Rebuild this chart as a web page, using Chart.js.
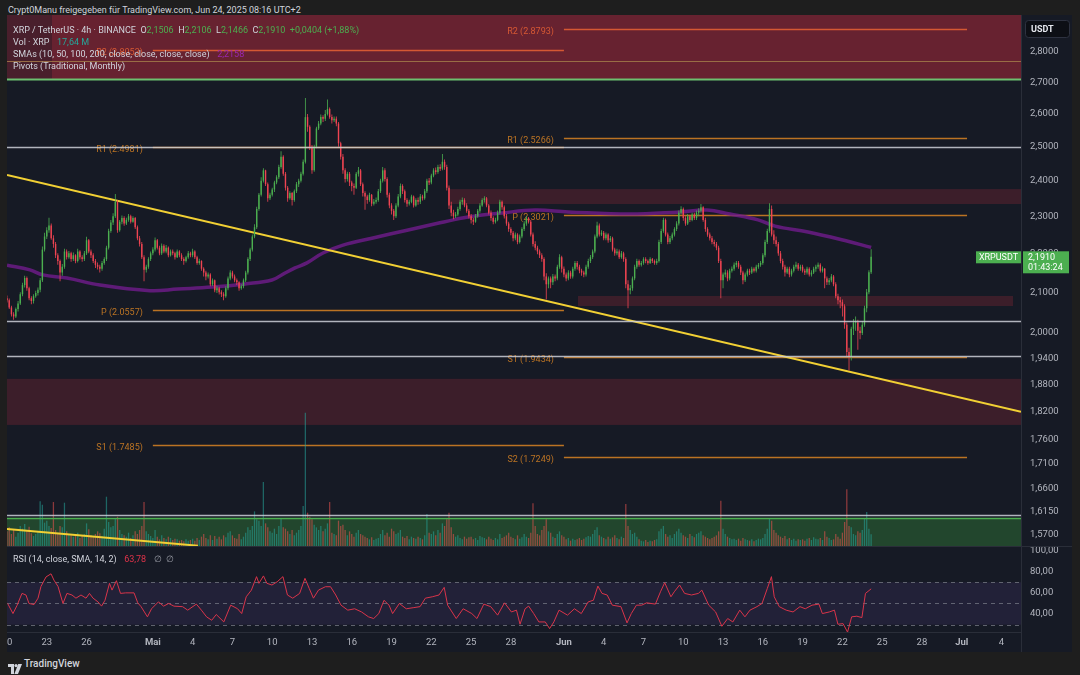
<!DOCTYPE html>
<html><head><meta charset="utf-8">
<script src="https://cdn.jsdelivr.net/npm/chart.js@4/dist/chart.umd.min.js"></script>
<style>
html,body{margin:0;padding:0;background:#1e1e1e;width:1080px;height:675px;overflow:hidden;font-family:Roboto,"Noto Sans",sans-serif;}
#panel{position:absolute;left:7px;top:15px;width:1065px;height:637px;background:#161a25;}
canvas{position:absolute;}
#main{left:7px;top:15px;}
#rsi{left:7px;top:546px;}
.t{position:absolute;white-space:nowrap;font-size:9px;color:#d1d4dc;line-height:10px;}
.t span{margin-left:3px;}
</style></head><body>
<div id="panel"></div>
<canvas id="main" width="1065" height="531"></canvas>
<canvas id="rsi" width="1065" height="106"></canvas>
<div class="t" style="left:8px;top:5px">Crypt0Manu freigegeben für TradingView.com, Jun 24, 2025 08:16 UTC+2</div>
<div class="t" id="lg1" style="left:13px;top:25px"></div>
<div class="t" id="lg2" style="left:13px;top:37px"></div>
<div class="t" id="lg3" style="left:13px;top:49px"></div>
<div class="t" style="left:13px;top:61px">Pivots (Traditional, Monthly)</div>
<div class="t" id="lg4" style="left:13px;top:554px"></div>
<div style="position:absolute;left:8px;top:659px;">
<svg width="14" height="10" viewBox="0 0 14 10"><path d="M0 0h6v10H3V3H0z" fill="#d1d4dc"/><circle cx="8" cy="1.6" r="1.6" fill="#d1d4dc"/><path d="M10.2 0H14l-4 10H6.4z" fill="#d1d4dc"/></svg>
</div>
<div class="t" style="left:24px;top:659px;font-size:10px;font-weight:500;">TradingView</div>
<script>
// ---------- DATA ----------
const candlesPerDay = 6;
const firstOpen = 2.085;
const closes = [
// Apr 20
2.080,2.062,2.045,2.040,2.058,2.072,
2.095,2.118,2.136,2.110,2.085,2.078,
2.090,2.098,2.106,2.130,2.210,2.245,
2.262,2.275,2.240,2.225,2.195,2.180,
2.150,2.165,2.205,2.190,2.200,2.185,
2.195,2.180,2.205,2.190,2.185,2.200,
2.235,2.205,2.195,2.180,2.170,2.165,
2.160,2.175,2.185,2.215,2.260,2.283,
2.300,2.340,2.262,2.285,2.295,2.280,
2.290,2.300,2.285,2.295,2.270,2.240,
2.225,2.190,2.157,2.165,2.185,2.200,
// May 1
2.210,2.235,2.215,2.200,2.220,2.205,
2.215,2.195,2.205,2.200,2.190,2.205,
2.195,2.185,2.180,2.190,2.200,2.195,
2.205,2.190,2.175,2.180,2.160,2.150,
2.140,2.145,2.120,2.130,2.105,2.110,
2.100,2.095,2.090,2.110,2.135,2.150,
2.140,2.130,2.125,2.110,2.115,2.130,
2.150,2.185,2.210,2.245,2.270,2.320,
2.360,2.400,2.430,2.390,2.350,2.360,
2.375,2.395,2.410,2.440,2.470,2.420,
2.380,2.350,2.365,2.345,2.370,2.390,
2.400,2.420,2.455,2.590,2.560,2.500,
2.430,2.500,2.555,2.570,2.590,2.585,
2.600,2.615,2.590,2.580,2.585,2.570,
2.510,2.470,2.430,2.405,2.420,2.395,
2.385,2.380,2.420,2.430,2.390,2.365,
2.355,2.345,2.360,2.335,2.340,2.345,
2.370,2.400,2.430,2.405,2.360,2.330,
2.315,2.300,2.330,2.355,2.385,2.370,
2.345,2.335,2.340,2.355,2.330,2.345,
2.340,2.355,2.350,2.370,2.400,2.395,
2.415,2.430,2.425,2.440,2.435,2.455,
2.440,2.380,2.330,2.310,2.300,2.305,
2.320,2.340,2.345,2.330,2.315,2.300,
2.290,2.285,2.300,2.315,2.330,2.345,
2.350,2.330,2.310,2.295,2.285,2.290,
2.310,2.340,2.325,2.300,2.280,2.265,
2.255,2.240,2.250,2.230,2.245,2.265,
2.280,2.295,2.285,2.250,2.225,2.215,
2.205,2.195,2.185,2.140,2.120,2.135,
2.125,2.140,2.135,2.165,2.190,2.160,
// Jun 1
2.145,2.135,2.150,2.140,2.160,2.175,
2.165,2.155,2.150,2.145,2.165,2.180,
2.190,2.205,2.245,2.275,2.250,2.255,
2.240,2.250,2.235,2.240,2.210,2.200,
2.205,2.190,2.200,2.185,2.120,2.105,
2.110,2.135,2.165,2.180,2.170,2.175,
2.185,2.180,2.175,2.185,2.180,2.175,
2.180,2.230,2.260,2.290,2.250,2.230,
2.240,2.250,2.265,2.280,2.310,2.320,
2.295,2.280,2.300,2.290,2.305,2.295,
2.310,2.315,2.325,2.290,2.265,2.250,
2.240,2.230,2.225,2.215,2.180,2.130,
2.145,2.150,2.135,2.155,2.160,2.170,
2.175,2.165,2.150,2.130,2.145,2.155,
2.150,2.160,2.155,2.165,2.170,2.175,
2.195,2.230,2.260,2.320,2.250,2.235,
2.225,2.200,2.180,2.165,2.150,2.160,
2.145,2.155,2.165,2.170,2.160,2.165,
2.155,2.150,2.160,2.145,2.150,2.160,
2.165,2.170,2.155,2.160,2.135,2.125,
2.130,2.140,2.120,2.090,2.080,2.075,
2.065,2.020,1.955,1.945,2.010,2.025,
2.025,2.005,2.000,2.020,2.060,2.100,
2.1506,2.1910
];
const highs = [
2.092,2.084,2.066,2.050,2.062,2.078,
2.100,2.124,2.142,2.140,2.114,2.090,
2.095,2.104,2.112,2.136,2.218,2.255,
2.270,2.296,2.280,2.248,2.230,2.200,
2.184,2.172,2.212,2.210,2.206,2.204,
2.202,2.198,2.212,2.208,2.195,2.206,
2.244,2.238,2.210,2.200,2.185,2.176,
2.170,2.180,2.190,2.220,2.266,2.290,
2.308,2.362,2.345,2.290,2.302,2.300,
2.296,2.306,2.304,2.300,2.298,2.275,
2.246,2.230,2.195,2.170,2.190,2.205,
2.216,2.242,2.238,2.220,2.226,2.224,
2.222,2.218,2.210,2.210,2.204,2.210,
2.208,2.200,2.190,2.194,2.206,2.204,
2.212,2.208,2.194,2.186,2.182,2.164,
2.155,2.150,2.148,2.135,2.132,2.116,
2.114,2.105,2.100,2.115,2.140,2.156,
2.155,2.145,2.135,2.128,2.120,2.135,
2.155,2.190,2.215,2.250,2.278,2.326,
2.365,2.410,2.436,2.432,2.395,2.366,
2.380,2.400,2.416,2.446,2.486,2.474,
2.425,2.385,2.370,2.368,2.375,2.396,
2.406,2.426,2.462,2.650,2.600,2.565,
2.505,2.506,2.560,2.578,2.598,2.596,
2.612,2.645,2.620,2.598,2.592,2.592,
2.575,2.515,2.478,2.436,2.426,2.425,
2.400,2.392,2.425,2.440,2.434,2.395,
2.370,2.360,2.366,2.362,2.348,2.352,
2.376,2.406,2.440,2.436,2.410,2.366,
2.336,2.320,2.336,2.362,2.392,2.390,
2.375,2.350,2.346,2.360,2.358,2.350,
2.352,2.362,2.360,2.376,2.406,2.408,
2.420,2.436,2.438,2.446,2.448,2.478,
2.462,2.446,2.386,2.340,2.318,2.312,
2.326,2.346,2.352,2.350,2.336,2.320,
2.306,2.296,2.306,2.320,2.336,2.350,
2.356,2.354,2.334,2.316,2.300,2.296,
2.316,2.346,2.344,2.330,2.306,2.285,
2.270,2.260,2.256,2.254,2.250,2.270,
2.286,2.300,2.298,2.290,2.256,2.232,
2.220,2.210,2.200,2.190,2.148,2.140,
2.140,2.146,2.145,2.170,2.198,2.194,
2.166,2.150,2.156,2.155,2.165,2.180,
2.180,2.170,2.160,2.155,2.170,2.186,
2.196,2.210,2.250,2.285,2.280,2.262,
2.260,2.256,2.254,2.246,2.244,2.215,
2.212,2.210,2.206,2.204,2.190,2.130,
2.118,2.140,2.170,2.186,2.184,2.180,
2.190,2.190,2.184,2.190,2.188,2.184,
2.186,2.236,2.266,2.296,2.294,2.256,
2.246,2.256,2.270,2.286,2.316,2.328,
2.324,2.300,2.306,2.304,2.310,2.310,
2.316,2.322,2.334,2.328,2.296,2.270,
2.256,2.246,2.236,2.230,2.220,2.186,
2.150,2.158,2.156,2.160,2.166,2.176,
2.180,2.180,2.170,2.155,2.150,2.160,
2.160,2.165,2.164,2.170,2.175,2.180,
2.200,2.236,2.266,2.336,2.330,2.262,
2.245,2.230,2.206,2.186,2.170,2.165,
2.165,2.160,2.170,2.178,2.175,2.170,
2.170,2.160,2.165,2.164,2.156,2.165,
2.170,2.176,2.174,2.166,2.162,2.140,
2.136,2.146,2.144,2.125,2.096,2.088,
2.082,2.070,2.025,1.965,2.015,2.034,
2.040,2.032,2.015,2.028,2.066,2.108,
2.156,2.2106
];
const lows = [
2.074,2.058,2.040,2.032,2.036,2.052,
2.068,2.090,2.112,2.104,2.080,2.070,
2.072,2.086,2.092,2.100,2.126,2.205,
2.238,2.255,2.236,2.215,2.188,2.170,
2.128,2.142,2.160,2.184,2.186,2.178,
2.180,2.174,2.176,2.184,2.178,2.180,
2.196,2.200,2.188,2.175,2.162,2.158,
2.150,2.155,2.170,2.180,2.210,2.255,
2.276,2.295,2.255,2.258,2.278,2.274,
2.276,2.285,2.280,2.282,2.265,2.235,
2.218,2.185,2.128,2.150,2.160,2.180,
2.195,2.205,2.210,2.195,2.196,2.200,
2.200,2.190,2.192,2.195,2.184,2.188,
2.190,2.180,2.170,2.176,2.186,2.190,
2.190,2.185,2.170,2.170,2.155,2.140,
2.130,2.135,2.115,2.116,2.100,2.098,
2.094,2.088,2.080,2.086,2.105,2.130,
2.135,2.125,2.118,2.104,2.106,2.110,
2.126,2.145,2.180,2.205,2.240,2.265,
2.315,2.355,2.395,2.385,2.340,2.345,
2.355,2.368,2.390,2.405,2.435,2.414,
2.372,2.340,2.346,2.330,2.340,2.365,
2.382,2.395,2.415,2.450,2.545,2.490,
2.420,2.426,2.495,2.550,2.565,2.575,
2.578,2.595,2.585,2.570,2.575,2.562,
2.500,2.462,2.420,2.395,2.398,2.385,
2.370,2.360,2.376,2.412,2.385,2.355,
2.318,2.335,2.340,2.328,2.330,2.335,
2.340,2.365,2.395,2.398,2.352,2.322,
2.305,2.290,2.295,2.325,2.350,2.362,
2.338,2.326,2.330,2.336,2.324,2.326,
2.332,2.334,2.344,2.346,2.365,2.388,
2.390,2.410,2.418,2.420,2.428,2.430,
2.432,2.372,2.320,2.300,2.292,2.295,
2.300,2.315,2.332,2.325,2.310,2.294,
2.280,2.276,2.282,2.296,2.310,2.326,
2.338,2.325,2.305,2.288,2.278,2.280,
2.286,2.305,2.318,2.294,2.274,2.258,
2.248,2.232,2.235,2.224,2.226,2.240,
2.260,2.274,2.280,2.245,2.218,2.208,
2.198,2.188,2.178,2.130,2.082,2.110,
2.110,2.118,2.128,2.130,2.160,2.150,
2.138,2.128,2.130,2.134,2.135,2.155,
2.158,2.148,2.142,2.138,2.140,2.160,
2.175,2.185,2.200,2.240,2.245,2.246,
2.235,2.235,2.228,2.230,2.205,2.194,
2.195,2.185,2.186,2.178,2.110,2.060,
2.095,2.104,2.130,2.160,2.165,2.166,
2.170,2.174,2.170,2.172,2.175,2.170,
2.170,2.176,2.225,2.255,2.245,2.224,
2.225,2.235,2.245,2.260,2.275,2.305,
2.288,2.274,2.276,2.284,2.286,2.290,
2.290,2.300,2.310,2.285,2.258,2.244,
2.234,2.224,2.218,2.208,2.175,2.085,
2.110,2.138,2.128,2.130,2.150,2.155,
2.164,2.160,2.144,2.120,2.126,2.140,
2.144,2.146,2.150,2.150,2.160,2.165,
2.170,2.190,2.225,2.255,2.245,2.225,
2.218,2.194,2.174,2.158,2.140,2.146,
2.138,2.140,2.150,2.160,2.155,2.155,
2.150,2.144,2.145,2.140,2.140,2.146,
2.152,2.160,2.150,2.150,2.110,2.118,
2.118,2.125,2.115,2.085,2.070,2.060,
2.040,2.010,1.945,1.912,1.935,1.995,
2.005,1.960,1.985,1.995,2.015,2.050,
2.095,2.1466
];
const volumes = [
22,28,18,25,14,20, 30,26,33,24,29,19, 15,18,22,67,62,35, 38,30,27,66,24,20,
30,28,65,22,18,16, 14,17,20,12,15,18, 34,25,16,14,18,22, 19,15,26,74,36,28,
30,42,44,24,18,16, 14,20,12,16,22,18, 24,30,66,22,18,15,
12,24,14,10,16,12, 10,14,12,9,11,10, 8,9,7,10,8,9, 11,8,12,9,14,18,
12,10,16,9,15,11, 14,10,16,13,20,22, 16,12,11,18,10,14, 20,28,24,30,52,40,
38,30,96,34,28,22, 20,26,18,30,42,28, 26,22,18,24,16,20, 24,30,60,200,50,44,
40,32,28,24,30,22, 26,34,66,20,18,16, 38,30,32,24,16,22, 18,14,20,24,18,16,
14,12,10,13,9,11, 12,18,24,16,20,14, 26,22,18,20,24,14, 12,15,10,14,12,11,
14,12,10,16,48,20, 18,22,16,24,20,34, 30,40,50,28,18,14, 16,12,10,14,11,13,
14,10,12,9,15,13, 12,10,14,11,9,12, 10,18,12,14,16,20, 14,12,10,16,11,13,
18,14,12,20,64,30, 18,16,24,30,40,22, 20,14,12,18,22,16,
14,10,12,8,11,9, 10,12,9,11,13,15, 14,18,24,28,16,14, 12,10,14,11,13,16,
12,10,14,12,63,30, 24,18,20,14,10,8, 7,9,6,8,7,9, 10,22,26,30,18,14,
16,12,18,22,26,20, 16,14,12,18,15,13, 18,20,22,16,14,12, 10,12,14,16,22,68,
26,18,14,12,10,11, 9,11,8,12,10,9, 8,10,7,9,11,10, 12,18,26,42,38,24,
20,16,14,12,15,10, 12,9,11,8,10,9, 10,8,11,12,9,13, 11,10,12,9,22,14,
12,9,10,18,14,11, 20,36,85,30,28,18, 16,22,20,24,41,51,
26,17.64
];
const smaDays = [0,1.73,2.71,4.52,7.01,10.78,12.9,15.46,17.95,19.98,20.97,21.72,22.62,23.83,25.34,27.6,30.17,32.65,34.77,37.33,39.82,42.31,46.98,50.75,52.79,54.52,56.64,57.92,60.41,63.2,65.17];
const smaVals = [2.169,2.157,2.144,2.136,2.118,2.104,2.108,2.113,2.121,2.131,2.149,2.162,2.175,2.201,2.222,2.241,2.262,2.282,2.298,2.309,2.317,2.312,2.306,2.312,2.317,2.306,2.290,2.273,2.257,2.234,2.2158];
const rsiDays = [0.05,0.45,0.75,1.13,1.43,1.66,2.04,2.34,2.56,2.94,3.32,3.54,3.85,4.22,4.52,4.9,5.2,5.58,5.96,6.22,6.49,6.86,7.13,7.39,7.73,7.92,8.25,8.56,8.95,9.58,9.86,10.11,10.59,10.9,11.42,11.81,12.19,12.59,13.24,13.63,14.28,14.66,15.05,15.44,15.78,16.35,16.87,17.39,17.7,18.04,18.43,18.82,19.0,19.34,19.6,19.98,20.38,20.81,21.15,21.55,22.07,22.47,22.79,23.11,23.49,24.01,24.4,24.79,25.19,25.7,26.22,26.74,27.26,27.65,28.04,28.43,28.81,29.08,29.59,30.11,30.63,31.15,31.55,32.07,32.58,32.97,33.23,33.88,34.4,35.05,35.44,35.96,36.48,37.0,37.52,38.04,38.42,38.69,39.07,39.34,39.72,40.11,40.59,40.92,41.24,41.63,42.27,42.79,43.31,43.83,44.22,44.56,44.87,45.26,45.65,46.3,46.76,47.08,47.47,47.86,48.24,48.9,49.28,49.6,50.07,50.32,50.72,51.1,51.62,52.14,52.4,52.92,53.44,53.91,54.35,54.74,55.26,55.65,56.03,56.56,56.94,57.34,57.65,57.86,58.24,58.76,59.28,59.8,60.2,60.71,61.23,61.49,62.01,62.4,62.66,63.05,63.39,63.7,64.09,64.47,64.74,65.17];
const rsiVals = [50,40.5,48,59.5,58,50,49,55,66,75,78,72,66,50,59.5,58,55,58,55,59.5,55,51.5,47.5,53,69,62.6,71.5,59.5,60,60,50.6,47,37.4,45,51.5,47.5,50,47.5,47,43.7,49.4,43.7,37.4,34.2,39.6,32.6,48.4,45,40.5,56.3,62.6,75.3,69,76,69,67.4,70.5,75.3,58,55,59.5,73.7,64.2,55,62.6,65.8,65.8,58,48.4,43.7,45,42,37.4,35.8,40.5,53,48.4,40.5,50,45,46,47,55,56.3,58,65.2,48.4,35.8,45,40.5,35.8,49.4,47,39,50.6,42,43.7,30.4,45,47.5,40.5,32.6,32.6,26.3,32.6,43.7,39,45,40.5,51.5,53,66.4,59.5,58,48.4,47,31.7,40.5,48.4,48.4,50.6,49.4,61,69.6,56.3,61,67.4,59.5,58,59.5,62.6,48.4,42,28.5,35.8,32.6,43.7,37.4,43.7,47,50,64.2,75.3,56.3,47,43.7,42,47,45,48.4,49.4,40.5,42,43.7,30.4,31,23,37.4,38,36.7,59.5,63.78];
const trendADays = [0, 76.47];
const trendAVals = [2.4164, 1.8200];
const trendBDays = [0, 14.4];
const trendBVals = [1.5814, 1.5501];
const pivotNames = ['R2','R1','P','S1','S2'];
const pivotMay = [2.8053, 2.4981, 2.0557, 1.7485, null];
const pivotJun = [2.8793, 2.5266, 2.3021, 1.9434, 1.7249];
const pivotPeriodDays = [11, 42, 72.4];
const zoneLow = [2.711, 2.711, 2.334, 2.0656, 1.7914, 1.40];
const zoneHigh = [3.0, 3.0, 2.376, 2.0905, 1.893, 1.6015];
const zoneStart = [0, 3.39, 33.26, 43.06, 0, 0];
const zoneEnd = [76.47, 76.47, 76.47, 75.87, 76.47, 76.47];
const whiteLevels = [2.5, 2.029, 1.9454, 1.6083];
const greenLevels = [2.711, 1.6015];
const brownLevels = [2.770];
const priceTicks = [1.57,1.615,1.66,1.71,1.76,1.82,1.88,1.94,2.0,2.1,2.2,2.3,2.4,2.5,2.6,2.7,2.8];
const rsiTicks = [40, 60, 80, 100];
const rsiBands = [70, 50, 30];
const dayTickValues = [0,3,6,11,14,17,20,23,26,29,32,35,38,42,45,48,51,54,57,60,63,66,69,72,75];
const dayTickLabels = ['20','23','26','Mai','4','7','10','13','16','19','22','25','28','Jun','4','7','10','13','16','19','22','25','28','Jul','4'];
const countdown = '01:43:24';

// ---------- BUILD ----------
const X_MAX = 76.47;
Chart.defaults.font.family = 'Roboto, "Noto Sans", sans-serif';
const fmt = (v, d) => v.toFixed(d).replace('.', ',');
const N = closes.length;
const opens = closes.map((c, i) => (i === 0 ? firstOpen : closes[i - 1]));
const tDay = i => i / candlesPerDay;
const isUp = closes.map((c, i) => c >= opens[i]);
const UP = '#4caf50', DN = '#ef4452';
const candleCol = isUp.map(u => (u ? UP : DN));
const volCol = isUp.map(u => (u ? 'rgba(38,166,154,0.55)' : 'rgba(239,83,80,0.55)'));
const lastClose = closes[N - 1];

const zoneColors = ['rgba(150,40,55,0.4)','rgba(150,40,55,0.4)','rgba(150,40,55,0.3)','rgba(150,40,55,0.3)','rgba(150,40,55,0.3)','rgba(56,142,60,0.38)'];

const mainPlugin = {
  id: 'mainDraw',
  beforeDatasetsDraw(chart) {
    const {ctx, chartArea: a, scales: {x, y}} = chart;
    ctx.save();
    ctx.beginPath(); ctx.rect(a.left, a.top, a.width, a.height); ctx.clip();
    zoneLow.forEach((lo, k) => {
      const x0 = x.getPixelForValue(zoneStart[k]), x1 = x.getPixelForValue(zoneEnd[k]);
      const y0 = y.getPixelForValue(zoneHigh[k]), y1 = y.getPixelForValue(lo);
      ctx.fillStyle = zoneColors[k];
      ctx.fillRect(x0, y0, x1 - x0, y1 - y0);
    });
    ctx.restore();
    // pivots
    ctx.save();
    ctx.font = '9px Roboto, sans-serif';
    ctx.textAlign = 'right'; ctx.textBaseline = 'middle';
    [pivotMay, pivotJun].forEach((vals, p) => {
      const xs = x.getPixelForValue(pivotPeriodDays[p]);
      const xe = x.getPixelForValue(pivotPeriodDays[p + 1]);
      vals.forEach((v, k) => {
        if (v == null) return;
        const yy = Math.round(y.getPixelForValue(v)) + 0.5;
        const col = k === 0 ? 'rgba(226,94,52,0.9)' : 'rgba(205,125,35,0.9)';
        ctx.strokeStyle = col; ctx.lineWidth = 1.5;
        ctx.beginPath(); ctx.moveTo(xs, yy); ctx.lineTo(xe, yy); ctx.stroke();
        ctx.fillStyle = col;
        ctx.fillText(pivotNames[k] + ' (' + v.toFixed(4) + ')', xs - 10, yy + 2.5);
      });
    });
    ctx.restore();
  },
  afterDatasetsDraw(chart) {
    const {ctx, chartArea: a, scales: {y}} = chart;
    ctx.save();
    const hl = (v, col, w) => {
      const yy = Math.round(y.getPixelForValue(v)) + 0.5;
      ctx.strokeStyle = col; ctx.lineWidth = w;
      ctx.beginPath(); ctx.moveTo(a.left, yy); ctx.lineTo(a.right, yy); ctx.stroke();
    };
    brownLevels.forEach(v => hl(v, 'rgba(160,118,72,0.9)', 1));
    whiteLevels.forEach(v => hl(v, 'rgba(205,208,216,0.85)', 1.5));
    greenLevels.forEach((v, k) => hl(v, k === 0 ? '#6cc070' : '#4caf50', k === 0 ? 2 : 1.5));
    ctx.restore();
  },
  afterDraw(chart) {
    const {ctx, chartArea: a, scales: {y}} = chart;
    const yc = y.getPixelForValue(lastClose);
    ctx.save();
    ctx.fillStyle = '#4caf50';
    ctx.fillRect(a.right - 45, yc - 5.5, 45, 12);
    ctx.fillRect(a.right + 2, yc - 5.5, 46, 22);
    ctx.fillStyle = '#ffffff';
    ctx.font = '9px Roboto, sans-serif';
    ctx.textBaseline = 'middle';
    ctx.textAlign = 'center';
    ctx.fillText('XRPUSDT', a.right - 22.5, yc + 0.5);
    ctx.textAlign = 'left';
    ctx.fillText(fmt(lastClose, 4), a.right + 7, yc + 0.5);
    ctx.fillText(countdown, a.right + 7, yc + 11);
    // USDT box
    ctx.fillStyle = '#0d0f15'; ctx.strokeStyle = '#2e3240'; ctx.lineWidth = 1;
    ctx.beginPath();
    if (ctx.roundRect) ctx.roundRect(a.right + 4.5, 5.5, 44, 17, 3); else ctx.rect(a.right + 4.5, 5.5, 44, 17);
    ctx.fill(); ctx.stroke();
    ctx.fillStyle = '#e6e8ee'; ctx.font = 'bold 9px Roboto, sans-serif';
    ctx.fillText('USDT', a.right + 10, 14.5);
    ctx.restore();
  }
};

new Chart(document.getElementById('main'), {
  type: 'bar',
  data: {
    datasets: [
      {type: 'bar', yAxisID: 'yv', data: volumes.map((v, i) => ({x: tDay(i), y: v})), backgroundColor: volCol, grouped: false, barPercentage: 0.72, order: 10},
      {type: 'line', yAxisID: 'y', data: smaDays.map((d, i) => ({x: d, y: smaVals[i]})), borderColor: 'rgba(112,28,140,0.8)', borderWidth: 3.5, pointRadius: 0, tension: 0.4, order: 8},
      {type: 'line', yAxisID: 'y', data: trendADays.map((d, i) => ({x: d, y: trendAVals[i]})), borderColor: '#f2d034', borderWidth: 2, pointRadius: 0, order: 7},
      {type: 'line', yAxisID: 'y', data: trendBDays.map((d, i) => ({x: d, y: trendBVals[i]})), borderColor: '#f2d034', borderWidth: 2, pointRadius: 0, order: 6},
      {type: 'bar', yAxisID: 'y', data: closes.map((c, i) => ({x: tDay(i), y: [Math.min(lows[i], highs[i]), Math.max(lows[i], highs[i])]})), backgroundColor: candleCol, grouped: false, barPercentage: 0.45, order: 2},
      {type: 'bar', yAxisID: 'y', data: closes.map((c, i) => ({x: tDay(i), y: [Math.min(opens[i], c), Math.max(opens[i], c)]})), backgroundColor: candleCol, grouped: false, barPercentage: 0.8, minBarLength: 1, order: 1}
    ]
  },
  options: {
    responsive: false, animation: false, devicePixelRatio: 1, events: [],
    layout: {padding: 0},
    plugins: {legend: {display: false}, tooltip: {enabled: false}},
    scales: {
      x: {type: 'linear', min: 0, max: X_MAX, display: false, offset: false, grid: {display: false}},
      yv: {type: 'linear', min: 0, max: 797, display: false},
      y: {
        type: 'logarithmic', position: 'right', min: 1.5496, max: 2.9269,
        afterBuildTicks: s => { s.ticks = priceTicks.map(v => ({value: v})); },
        afterFit: s => { s.width = 51; s.paddingTop = 0; s.paddingBottom = 0; },
        grid: {display: false, drawTicks: false},
        border: {display: true, color: '#2a2e39'},
        ticks: {color: '#b2b5be', font: {size: 9.5}, padding: 9, autoSkip: false, callback: v => fmt(v, 4)}
      }
    }
  },
  plugins: [mainPlugin]
});

const rsiPlugin = {
  id: 'rsiDraw',
  beforeDatasetsDraw(chart) {
    const {ctx, chartArea: a, scales: {y}} = chart;
    ctx.save();
    const y70 = y.getPixelForValue(rsiBands[0]), y30 = y.getPixelForValue(rsiBands[2]);
    ctx.fillStyle = 'rgba(126,87,194,0.12)';
    ctx.fillRect(a.left, y70, a.width, y30 - y70);
    ctx.strokeStyle = 'rgba(120,123,134,0.75)'; ctx.lineWidth = 1; ctx.setLineDash([4, 4]);
    rsiBands.forEach(v => {
      const yy = Math.round(y.getPixelForValue(v)) + 0.5;
      ctx.beginPath(); ctx.moveTo(a.left, yy); ctx.lineTo(a.right, yy); ctx.stroke();
    });
    ctx.setLineDash([]);
    ctx.strokeStyle = '#2a2e39';
    ctx.beginPath(); ctx.moveTo(0, 0.5); ctx.lineTo(chart.width, 0.5); ctx.stroke();
    ctx.beginPath(); ctx.moveTo(a.right + 0.5, a.bottom); ctx.lineTo(a.right + 0.5, chart.height); ctx.stroke();
    ctx.restore();
  }
};

const monthIdx = dayTickLabels.map((l, i) => (isNaN(+l) ? i : -1)).filter(i => i >= 0);
new Chart(document.getElementById('rsi'), {
  type: 'line',
  data: {datasets: [{data: rsiDays.map((d, i) => ({x: d, y: rsiVals[i]})), borderColor: '#d9344a', borderWidth: 1, pointRadius: 0, tension: 0}]},
  options: {
    responsive: false, animation: false, devicePixelRatio: 1, events: [],
    layout: {padding: 0},
    plugins: {legend: {display: false}, tooltip: {enabled: false}},
    scales: {
      x: {
        type: 'linear', min: 0, max: X_MAX, position: 'bottom',
        afterBuildTicks: s => { s.ticks = dayTickValues.map(v => ({value: v})); },
        afterFit: s => { s.height = 20; s.paddingLeft = 0; s.paddingRight = 0; },
        grid: {display: false, drawTicks: false},
        border: {display: true, color: '#2a2e39'},
        ticks: {
          color: '#b2b5be', padding: 5, autoSkip: false, maxRotation: 0,
          font: c => ({size: 9.5, weight: monthIdx.includes(c.index) ? 'bold' : 'normal'}),
          callback: (v, i) => dayTickLabels[i]
        }
      },
      y: {
        type: 'linear', position: 'right', min: 23.1, max: 104.2,
        afterBuildTicks: s => { s.ticks = rsiTicks.map(v => ({value: v})); },
        afterFit: s => { s.width = 51; s.paddingTop = 0; s.paddingBottom = 0; },
        grid: {display: false, drawTicks: false},
        border: {display: true, color: '#2a2e39'},
        ticks: {color: '#b2b5be', font: {size: 9.5}, padding: 9, autoSkip: false, callback: v => fmt(v, 2)}
      }
    }
  },
  plugins: [rsiPlugin]
});

// ---------- LEGENDS ----------
const o = opens[N - 1], h = highs[N - 1], l = lows[N - 1], c = closes[N - 1];
const ch = c - o, pct = ch / o * 100;
const G = s => '<span style="color:#4caf50;margin-left:0">' + s + '</span>';
document.getElementById('lg1').innerHTML = 'XRP / TetherUS · 4h · BINANCE&nbsp;&nbsp;O' + G(fmt(o, 4)) + '&nbsp;&nbsp;H' + G(fmt(h, 4)) + '&nbsp;&nbsp;L' + G(fmt(l, 4)) + '&nbsp;&nbsp;C' + G(fmt(c, 4)) + '&nbsp;&nbsp;' + G('+' + fmt(ch, 4) + ' (+' + fmt(pct, 2) + '%)');
document.getElementById('lg2').innerHTML = 'Vol · XRP&nbsp;&nbsp;<span style="color:#26a69a">' + fmt(volumes[N - 1], 2) + ' M</span>';
document.getElementById('lg3').innerHTML = 'SMAs (10, 50, 100, 200, close, close, close, close)&nbsp;&nbsp;<span style="color:#9c27b0">' + fmt(smaVals[smaVals.length - 1], 4) + '</span>';
document.getElementById('lg4').innerHTML = 'RSI (14, close, SMA, 14, 2)&nbsp;&nbsp;<span style="color:#e0334a">' + fmt(rsiVals[rsiVals.length - 1], 2) + '</span>&nbsp;&nbsp;<span style="color:#9598a1">∅&nbsp;&nbsp;∅</span>';
</script>
</body></html>
